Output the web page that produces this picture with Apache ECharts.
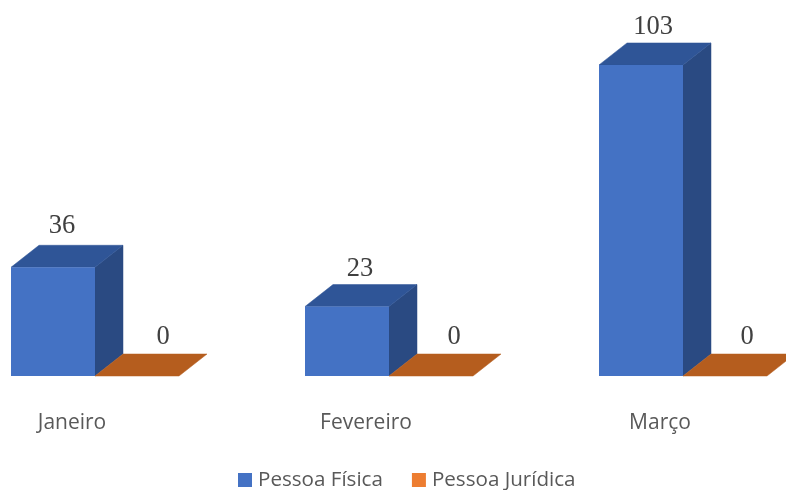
<!DOCTYPE html>
<html><head><meta charset="utf-8">
<style>html,body{margin:0;padding:0;background:#fff}#c{width:786px;height:490px}</style>
<script src="https://cdn.jsdelivr.net/npm/echarts@6/dist/echarts.min.js"></script>
</head><body><div id="c"></div>
<script>
var categories = ['Janeiro', 'Fevereiro', 'Março'];
var pessoaFisica = [36, 23, 103];
var pessoaJuridica = [0, 0, 0];

var chart = echarts.init(document.getElementById('c'), null, {renderer: 'canvas'});

// label nudges per category, relative to the bar's front-left corner and back-top edge
var labelDX = [[51, 55, 54], [68, 65, 64]];
var labelDY = [[-19, -15, -16], [-17, -17, -17]];

function bar3d(front, top, side, slot) {
  return function (params, api) {
    var cat = api.value(0), val = api.value(1);
    var base = api.coord([cat, 0]);
    var tip = api.coord([cat, val]);
    var band = api.size([1, 0])[0];
    var w = band * 84 / 294;
    var dx = 28, dy = 22;
    var x0 = base[0] - band * 61 / 294 + slot * w;
    var x1 = x0 + w, y0 = base[1], y1 = tip[1];
    var kids = [];
    if (y0 - y1 > 0.5) {
      kids.push({type: 'polygon', shape: {points: [[x1, y1], [x1 + dx, y1 - dy], [x1 + dx, y0 - dy], [x1, y0]]}, style: {fill: side, stroke: side, lineWidth: 0.5}});
    }
    kids.push({type: 'polygon', shape: {points: [[x0, y1], [x0 + dx, y1 - dy], [x1 + dx, y1 - dy], [x1, y1]]}, style: {fill: top, stroke: top, lineWidth: 0.5}});
    if (y0 - y1 > 0.5) {
      kids.push({type: 'rect', shape: {x: x0, y: y1, width: w, height: y0 - y1}, style: {fill: front}});
    }
    kids.push({type: 'text', style: {
      x: x0 + labelDX[slot][cat], y: y1 - dy + labelDY[slot][cat], text: String(val), align: 'center', verticalAlign: 'middle',
      font: '26.5px "Liberation Serif"', fill: '#404040'
    }});
    return {type: 'group', children: kids};
  };
}

chart.setOption({
  animation: false,
  backgroundColor: '#fff',
  grid: {left: -75, width: 882, top: 13.6, height: 362.4, outerBoundsMode: 'none'},
  legend: {
    top: 466, left: 238, padding: 0,
    itemWidth: 14, itemHeight: 14, itemGap: 29,
    icon: 'rect',
    textStyle: {fontFamily: 'Open Sans', fontSize: 20.6, lineHeight: 28, height: 28, color: '#595959', padding: [0, 0, 0, 1]},
    data: ['Pessoa Física', 'Pessoa Jurídica']
  },
  xAxis: {
    type: 'category', data: categories,
    axisLine: {show: false}, axisTick: {show: false}, splitLine: {show: false},
    axisLabel: {fontFamily: 'Open Sans', fontSize: 21, color: '#595959', margin: 37}
  },
  yAxis: {type: 'value', min: 0, max: 120, show: false},
  series: [
    {name: 'Pessoa Física', type: 'custom', clip: false, itemStyle: {color: '#4472C4'},
     encode: {x: 0, y: 1},
     renderItem: bar3d('#4472C4', '#2F5597', '#2A4A82', 0),
     data: pessoaFisica.map(function (v, i) { return [i, v]; })},
    {name: 'Pessoa Jurídica', type: 'custom', clip: false, itemStyle: {color: '#ED7D31'},
     encode: {x: 0, y: 1},
     renderItem: bar3d('#ED7D31', '#B55D1E', '#A5561C', 1),
     data: pessoaJuridica.map(function (v, i) { return [i, v]; })}
  ]
});
</script></body></html>
